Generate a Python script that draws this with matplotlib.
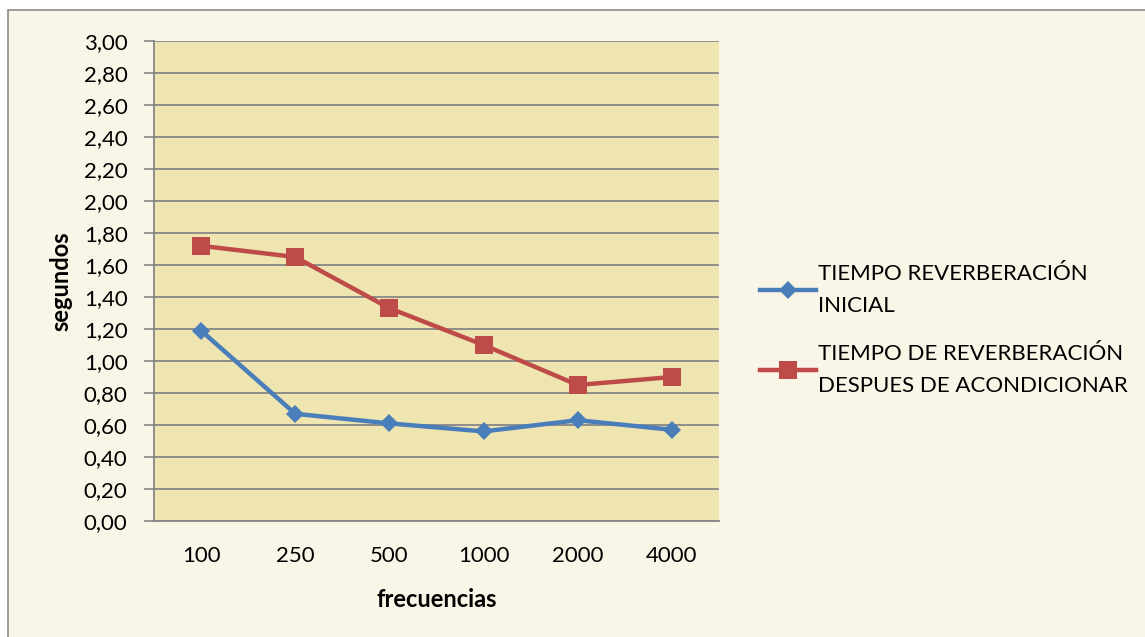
import matplotlib
matplotlib.use("Agg")
import matplotlib.pyplot as plt
from matplotlib.patches import Rectangle

categories = ["100", "250", "500", "1000", "2000", "4000"]
inicial = [1.19, 0.67, 0.61, 0.56, 0.63, 0.57]
despues = [1.72, 1.65, 1.33, 1.10, 0.85, 0.90]
label_inicial = "TIEMPO REVERBERACIÓN\nINICIAL"
label_despues = "TIEMPO DE REVERBERACIÓN\nDESPUES DE ACONDICIONAR"
yticks = [i * 0.2 for i in range(16)]

plt.rcParams['font.family'] = ['Lato', 'DejaVu Sans']

W, H = 1145, 637
fig = plt.figure(figsize=(W / 100, H / 100), dpi=100)
fig.patch.set_facecolor("white")

# chart area background with border (top/left visible)
bg = Rectangle((8 / W, -0.1), 1.2, 1.1 - 10 / H, transform=fig.transFigure,
               facecolor="#F9F6E8", edgecolor="#8C8C8C", linewidth=1.2, zorder=-10)
fig.add_artist(bg)

left, right, top, bottom = 154, 719, 41, 521
ax = fig.add_axes([left / W, 1 - bottom / H, (right - left) / W, (bottom - top) / H])
ax.set_facecolor("#EEE5B0")

x = list(range(len(categories)))
ax.plot(x, inicial, color="#4A7EBB", linewidth=3.2, marker="D", markersize=9,
        markeredgewidth=0, label=label_inicial, zorder=3)
ax.plot(x, despues, color="#BE4B48", linewidth=3.2, marker="s", markersize=13,
        markeredgewidth=0, label=label_despues, zorder=3)

ax.set_xlim(-0.5, len(categories) - 0.5)
ax.set_ylim(0, 3.0)
ax.set_yticks(yticks)
ax.set_yticklabels([f"{v:.2f}".replace(".", ",") for v in yticks], fontsize=16)
ax.set_xticks(x)
ax.set_xticklabels(categories, fontsize=16)
ax.tick_params(axis="x", length=0, pad=18)
ax.tick_params(axis="y", length=7, width=1.2, color="#868686", pad=12, direction="out")
ax.yaxis.grid(True, color="#868686", linewidth=1.3)
ax.set_axisbelow(True)
for s in ["top", "right"]:
    ax.spines[s].set_visible(False)
ax.spines["left"].set_color("#868686")
ax.spines["bottom"].set_color("#868686")
ax.spines["left"].set_linewidth(1.3)
ax.spines["bottom"].set_linewidth(1.3)

ax.set_xlabel("frecuencias", fontsize=17, fontweight="bold", labelpad=16)
ax.set_ylabel("segundos", fontsize=17, fontweight="bold", labelpad=8)

leg = fig.legend(loc="center left", bbox_to_anchor=(740 / W, 1 - 330 / H), frameon=False,
                 fontsize=16, handlelength=2.5, handletextpad=0.1, labelspacing=1.3)
for t in leg.get_texts():
    t.set_linespacing(1.7)

fig.savefig("out.png", dpi=100, facecolor=fig.get_facecolor())
